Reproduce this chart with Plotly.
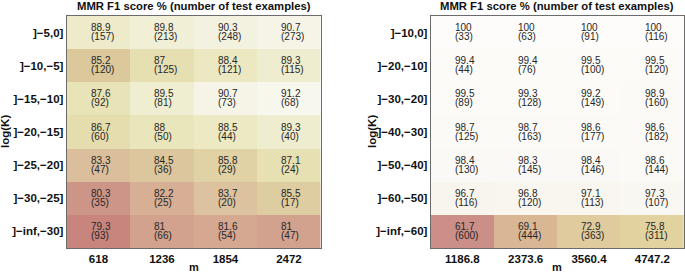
import plotly.graph_objects as go

W, H = 685, 274

title_text = "MMR F1 score % (number of test examples)"

left_m = ["618", "1236", "1854", "2472"]
left_k = ["]−5,0]", "]−10,−5]", "]−15,−10]", "]−20,−15]", "]−25,−20]", "]−30,−25]", "]−inf,−30]"]
left_f1 = [
    [88.9, 89.8, 90.3, 90.7],
    [85.2, 87, 88.4, 89.3],
    [87.6, 89.5, 90.7, 91.2],
    [86.7, 88, 88.5, 89.3],
    [83.3, 84.5, 85.8, 87.1],
    [80.3, 82.2, 83.7, 85.5],
    [79.3, 81, 81.6, 81],
]
left_n = [
    [157, 213, 248, 273],
    [120, 125, 121, 115],
    [92, 81, 73, 68],
    [60, 50, 44, 40],
    [47, 36, 29, 24],
    [35, 25, 20, 17],
    [93, 66, 54, 47],
]

right_m = ["1186.8", "2373.6", "3560.4", "4747.2"]
right_k = ["]−10,0]", "]−20,−10]", "]−30,−20]", "]−40,−30]", "]−50,−40]", "]−60,−50]", "]−inf,−60]"]
right_f1 = [
    [100, 100, 100, 100],
    [99.4, 99.4, 99.5, 99.5],
    [99.5, 99.3, 99.2, 98.9],
    [98.7, 98.7, 98.6, 98.6],
    [98.4, 98.3, 98.4, 98.6],
    [96.7, 96.8, 97.1, 97.3],
    [61.7, 69.1, 72.9, 75.8],
]
right_n = [
    [33, 63, 91, 116],
    [44, 76, 100, 120],
    [89, 128, 149, 160],
    [125, 163, 177, 182],
    [130, 145, 146, 144],
    [116, 120, 113, 107],
    [600, 444, 363, 311],
]

left_scale = [
    [0.0, "#c7857d"], [0.08, "#cc9487"], [0.14, "#d2a28e"], [0.24, "#d7ae95"],
    [0.35, "#dcc19e"], [0.5, "#dbc99c"], [0.58, "#e3d8aa"], [0.68, "#e7e3b4"],
    [0.78, "#ece9c4"], [0.86, "#f0eed2"], [0.92, "#f3f1de"], [1.0, "#f8f7ee"],
]
right_scale = [
    [0.0, "#cc8f87"], [0.19, "#d9b594"], [0.29, "#dfcb9d"], [0.37, "#e2d29f"],
    [0.6, "#eeeac8"], [0.91, "#f8f5ee"], [0.95, "#faf9f4"], [1.0, "#fdfcfa"],
]

TXT_FONT = "Liberation Sans Narrow, Arial Narrow, Liberation Sans, Arial"
BOLD_FONT = "Liberation Sans, Arial, Helvetica"

fig = go.Figure()

panels = [
    dict(m=left_m, k=left_k, f1=left_f1, n=left_n, cs=left_scale, xa="x", ya="y",
         dom=(66.7, 320.7), ytitle_x=5),
    dict(m=right_m, k=right_k, f1=right_f1, n=right_n, cs=right_scale, xa="x2", ya="y2",
         dom=(430.7, 684.0), ytitle_x=372),
]

y_top, y_bot = 16.0, 248.0
annotations = []
for p in panels:
    flat = [v for row in p["f1"] for v in row]
    fig.add_trace(go.Heatmap(
        z=p["f1"], x=list(range(len(p["m"]))), y=list(range(len(p["k"]))),
        colorscale=p["cs"], zmin=min(flat), zmax=max(flat), showscale=False,
        xaxis=p["xa"], yaxis=p["ya"], hoverinfo="skip",
    ))
    for r, row in enumerate(p["f1"]):
        for c, v in enumerate(row):
            txt = (f'<span style="font-size:10px">{v:g}</span><br>'
                   f'<span style="font-size:10px">({p["n"][r][c]})</span>')
            annotations.append(dict(
                x=c - 0.154, y=r - 0.012, xref=p["xa"], yref=p["ya"], text=txt,
                showarrow=False, xanchor="left", yanchor="middle", align="left",
                font=dict(family=TXT_FONT, size=7.3, color="#262626")))
    cx = (p["dom"][0] + p["dom"][1]) / 2 / W
    annotations.append(dict(
        x=cx, y=1 - 5.5 / H, xref="paper", yref="paper", text=f"<b>{title_text}</b>",
        showarrow=False, xanchor="center", yanchor="middle",
        font=dict(family=TXT_FONT, size=11.3, color="#111")))
    annotations.append(dict(
        x=cx, y=0, xref="paper", yref="paper", text="<b>m</b>",
        showarrow=False, xanchor="center", yanchor="bottom", borderpad=0,
        font=dict(family=BOLD_FONT, size=11, color="#111")))
    annotations.append(dict(
        x=p["ytitle_x"] / W, y=1 - ((y_top + y_bot) / 2) / H, xref="paper", yref="paper",
        text="<b>log(K)</b>", textangle=-90,
        showarrow=False, xanchor="center", yanchor="middle",
        font=dict(family=BOLD_FONT, size=11.5, color="#111")))

axis_common = dict(showline=True, mirror=True, linecolor="#6b6b6b", linewidth=1,
                   showgrid=False, zeroline=False, ticks="")

fig.update_layout(
    width=W, height=H, margin=dict(l=0, r=0, t=0, b=0),
    paper_bgcolor="white", plot_bgcolor="white",
    annotations=annotations,
    xaxis=dict(domain=[66.7 / W, 320.7 / W], anchor="y",
               tickvals=list(range(4)), ticktext=[f"<b>{t}</b>" for t in left_m],
               range=[-0.5, 3.5], tickfont=dict(family=BOLD_FONT, size=11.5, color="#111"),
               **axis_common),
    yaxis=dict(domain=[1 - y_bot / H, 1 - y_top / H], anchor="x",
               tickvals=list(range(7)), ticktext=[f"<b>{t}</b>" for t in left_k],
               range=[6.5, -0.5], tickfont=dict(family=BOLD_FONT, size=11.5, color="#111"),
               **axis_common),
    xaxis2=dict(domain=[430.7 / W, 684.0 / W], anchor="y2",
                tickvals=list(range(4)), ticktext=[f"<b>{t}</b>" for t in right_m],
                range=[-0.5, 3.5], tickfont=dict(family=BOLD_FONT, size=11.5, color="#111"),
                **axis_common),
    yaxis2=dict(domain=[1 - y_bot / H, 1 - y_top / H], anchor="x2",
                tickvals=list(range(7)), ticktext=[f"<b>{t}</b>" for t in right_k],
                range=[6.5, -0.5], tickfont=dict(family=BOLD_FONT, size=11.5, color="#111"),
                **axis_common),
)

fig.write_html("out.html", config={"displayModeBar": False},
               post_script="document.body.style.margin='0px';")
